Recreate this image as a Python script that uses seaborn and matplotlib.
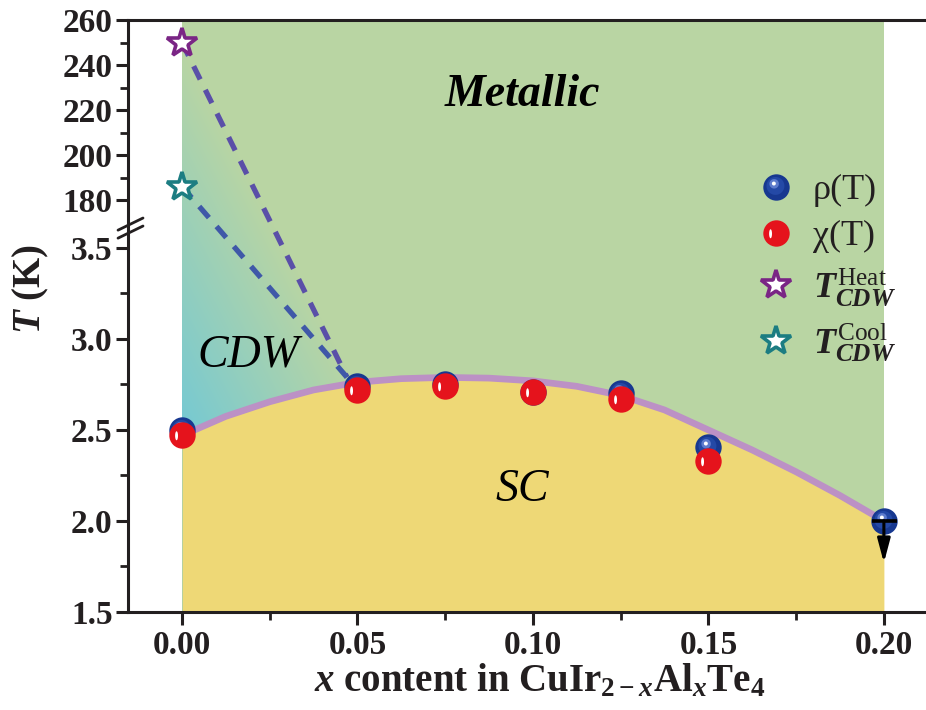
import numpy as np
import pandas as pd
import matplotlib
matplotlib.use("Agg")
import matplotlib.pyplot as plt
import seaborn as sns
from matplotlib.path import Path
from matplotlib.lines import Line2D
from matplotlib.legend_handler import HandlerTuple

# ---------------- data ----------------
x_rho = [0.0, 0.05, 0.075, 0.10, 0.125, 0.15, 0.20]
T_rho = [2.50, 2.74, 2.755, 2.71, 2.705, 2.405, 2.00]
x_chi = [0.0, 0.05, 0.075, 0.10, 0.125, 0.15]
T_chi = [2.47, 2.72, 2.742, 2.707, 2.669, 2.331]
x_heat, T_heat = [0.0], [250.0]
x_cool, T_cool = [0.0], [186.0]
cdw_end_x, cdw_end_T = 0.047, 2.79
sc_x = [0, 0.0125, 0.025, 0.0375, 0.05, 0.0625, 0.075, 0.0875, 0.1,
        0.1125, 0.125, 0.1375, 0.15, 0.1625, 0.175, 0.1875, 0.2]
sc_T = [2.47, 2.575, 2.655, 2.72, 2.762, 2.782, 2.789, 2.785, 2.77,
        2.74, 2.69, 2.61, 2.50, 2.39, 2.27, 2.14, 2.00]
xticks = [0.0, 0.05, 0.10, 0.15, 0.20]
xticklabels = ["0.00", "0.05", "0.10", "0.15", "0.20"]
yticks = [1.5, 2.0, 2.5, 3.0, 3.5, 180, 200, 220, 240, 260]
yticklabels = ["1.5", "2.0", "2.5", "3.0", "3.5", "180", "200", "220", "240", "260"]
yminor = [1.75, 2.25, 2.75, 3.25, 190, 210, 230, 250]

# ---------------- style ----------------
sns.set_theme(style="ticks")
plt.rcParams["font.family"] = ["Liberation Serif", "DejaVu Serif"]
plt.rcParams["mathtext.fontset"] = "custom"
plt.rcParams["mathtext.rm"] = "Liberation Serif"
plt.rcParams["mathtext.it"] = "Liberation Serif:italic:bold"
plt.rcParams["mathtext.bf"] = "Liberation Serif:bold"
INK = "#231f20"

GREEN = "#b9d5a3"
CYAN = np.array([0.46, 0.79, 0.83])
YELLOW = "#eed876"
PURPLE = "#bc91c5"

# broken y axis as a piecewise-linear scale
LO, HI = 3.62, 172.0
K = (4.7527 - 3.7637) / 80.0
def _up(y):
    return 3.7637 + (y - 180.0) * K
T_HI = _up(HI)

def fwd(y):
    y = np.asarray(y, float)
    return np.where(y <= LO, y,
                    np.where(y >= HI, _up(y),
                             LO + (y - LO) * (T_HI - LO) / (HI - LO)))

def inv(t):
    t = np.asarray(t, float)
    return np.where(t <= LO, t,
                    np.where(t >= T_HI, 180.0 + (t - 3.7637) / K,
                             LO + (t - LO) * (HI - LO) / (T_HI - LO)))

fig = plt.figure(figsize=(9.26, 7.10), dpi=100)
ax = fig.add_axes([128 / 926, 98 / 710, 798 / 926, 592 / 710])
ax.set_yscale("function", functions=(fwd, inv))
ax.set_xlim(-0.01538, 0.212)
ax.set_ylim(1.5, 260)

# ---------------- backgrounds ----------------
ax.axvspan(0.0, 0.2, color=GREEN, lw=0, zorder=0.5)

# CDW gradient (in pixel space of the figure)
ny, nx = 400, 400
fx = np.linspace(0, 1, nx)
fy = np.linspace(0, 1, ny)
FX, FY = np.meshgrid(fx, fy)
PX = 128 + FX * 798
PY = 612 - FY * 592
d = ((PX - 182) * 338 - (PY - 430) * 173) / 380.0
alpha = np.clip(1 - d / 175.0, 0, 1)
img = np.zeros((ny, nx, 4))
img[..., :3] = CYAN
img[..., 3] = alpha
im = ax.imshow(img, extent=[0, 1, 0, 1], origin="lower", transform=ax.transAxes,
               aspect="auto", zorder=0.6, interpolation="bilinear")
clip = ax.axvspan(0.0, 0.2, color="none", lw=0)
im.set_clip_path(clip)

ax.fill_between(sc_x, [1.5] * len(sc_x), sc_T, color=YELLOW, lw=0, zorder=0.7)
sns.lineplot(x=sc_x, y=sc_T, ax=ax, color=PURPLE, lw=4.8, sort=False,
             estimator=None, zorder=1)

# dashed CDW lines
ax.plot([x_heat[0], cdw_end_x], [T_heat[0], cdw_end_T], color="#5a4fa8",
        lw=3.8, dashes=(2.8, 2.2), zorder=2)
ax.plot([x_cool[0], cdw_end_x], [T_cool[0], cdw_end_T], color="#3f58a8",
        lw=3.8, dashes=(2.8, 2.2), zorder=2)

# ---------------- sphere markers ----------------
def disc(cx, cy, rx, ry=None, n=60):
    ry = rx if ry is None else ry
    th = np.linspace(0, 2 * np.pi, n)
    v = [(-1, -1), (1, 1)] + [(cx + rx * np.cos(t), cy + ry * np.sin(t)) for t in th]
    codes = [Path.MOVETO, Path.MOVETO, Path.MOVETO] + [Path.LINETO] * (n - 2) + [Path.CLOSEPOLY]
    return Path(v, codes)

blue_layers = [("o", "#173890"), (disc(-0.08, 0.12, 0.68), "#2449a6"),
               (disc(-0.18, 0.28, 0.36), "#5d7bcc"), (disc(-0.2, 0.3, 0.15), "#ffffff")]
red_layers = [("o", "#e5131c"), (disc(-0.45, -0.02, 0.11, 0.34), "#ffffff")]
MS = 19

df_rho = pd.DataFrame({"x": x_rho, "T": T_rho})
df_chi = pd.DataFrame({"x": x_chi, "T": T_chi})
for i, (m, c) in enumerate(blue_layers):
    sns.scatterplot(data=df_rho, x="x", y="T", ax=ax, marker=m, color=c, s=MS ** 2,
                    linewidth=0, zorder=3 + i * 0.01, legend=False)
for i, (m, c) in enumerate(red_layers):
    sns.scatterplot(data=df_chi, x="x", y="T", ax=ax, marker=m, color=c, s=MS ** 2,
                    linewidth=0, zorder=3.5 + i * 0.01, legend=False)

# upper limit arrow at x=0.20
ax.annotate("", xy=(0.2, 1.77), xytext=(0.2, 2.0),
            arrowprops=dict(arrowstyle="-|>,head_length=1.2,head_width=0.32",
                            color="black", lw=2.2, shrinkA=0, shrinkB=0), zorder=4)
ax.plot([0.2], [2.0], marker="_", ms=18, mew=2.6, color="black", zorder=4.1)

# stars
ax.plot(x_heat, T_heat, marker="*", ms=22, mfc="white", mec="#7a2585", mew=2.6,
        ls="none", zorder=3)
ax.plot(x_cool, T_cool, marker="*", ms=22, mfc="white", mec="#1c7d82", mew=2.6,
        ls="none", zorder=3)

# ---------------- region labels ----------------
ax.text(0.0969, 226.7, "Metallic", fontsize=33, fontstyle="italic", fontweight="bold",
        ha="center", va="center", color="black", zorder=5)
ax.text(0.0188, 2.912, "CDW", fontsize=33, fontstyle="italic",
        ha="center", va="center", color="black", zorder=5)
ax.text(0.0969, 2.17, "SC", fontsize=33, fontstyle="italic",
        ha="center", va="center", color="black", zorder=5)

# ---------------- axes styling ----------------
for s in ["left", "bottom", "top"]:
    ax.spines[s].set_linewidth(2.2)
    ax.spines[s].set_color(INK)
ax.spines["right"].set_visible(False)
ax.spines["top"].set_zorder(6)

ax.set_xticks(xticks, xticklabels)
ax.set_xticks([0.025, 0.075, 0.125, 0.175], minor=True)
ax.set_yticks(yticks, yticklabels)
ax.set_yticks(yminor, minor=True)
ax.tick_params(axis="both", which="major", direction="out", length=9, width=2.2,
               color=INK, labelsize=24, labelcolor=INK, top=False, right=False)
ax.tick_params(axis="both", which="minor", direction="out", length=5.5, width=2.0,
               color=INK, top=False, right=False)
for lab in ax.get_xticklabels() + ax.get_yticklabels():
    lab.set_fontweight("bold")
ax.tick_params(axis="x", pad=4)
ax.tick_params(axis="y", pad=2)

ax.set_xlabel(r"$x$ content in CuIr$_{\mathbf{2-}x}$Al$_{x}$Te$_{\mathbf{4}}$",
              fontsize=28, fontweight="bold", color=INK)
ax.xaxis.set_label_coords(0.516, -0.085)
ax.set_ylabel(r"$T$ (K)", fontsize=28, fontweight="bold", color=INK)
ax.yaxis.set_label_coords(-0.097, 0.545)

# axis break marks
for off in (0.0, 0.0135):
    ax.plot([-0.0125, 0.0188], [0.645 - off, 0.6655 - off], transform=ax.transAxes,
            color=INK, lw=2.0, clip_on=False, zorder=7)

# ---------------- legend ----------------
def layered(layers):
    return tuple(Line2D([], [], ls="none", marker=m, color=c, ms=MS, mew=0)
                 for m, c in layers)

h_rho = layered(blue_layers)
h_chi = layered(red_layers)
h_heat = Line2D([], [], ls="none", marker="*", ms=22, mfc="white", mec="#7a2585", mew=2.6)
h_cool = Line2D([], [], ls="none", marker="*", ms=22, mfc="white", mec="#1c7d82", mew=2.6)
leg = ax.legend([h_rho, h_chi, h_heat, h_cool],
                [r"ρ(T)", r"χ(T)",
                 r"$T^{\mathrm{Heat}}_{CDW}$", r"$T^{\mathrm{Cool}}_{CDW}$"],
                handler_map={tuple: HandlerTuple(ndivide=1, pad=0)},
                loc="upper left", bbox_to_anchor=(0.768, 0.770), frameon=False,
                fontsize=26, handlelength=0.95, handletextpad=0.55, labelspacing=0.35,
                borderpad=0)
for t in leg.get_texts():
    t.set_color(INK)

fig.savefig("out.png", dpi=100)
